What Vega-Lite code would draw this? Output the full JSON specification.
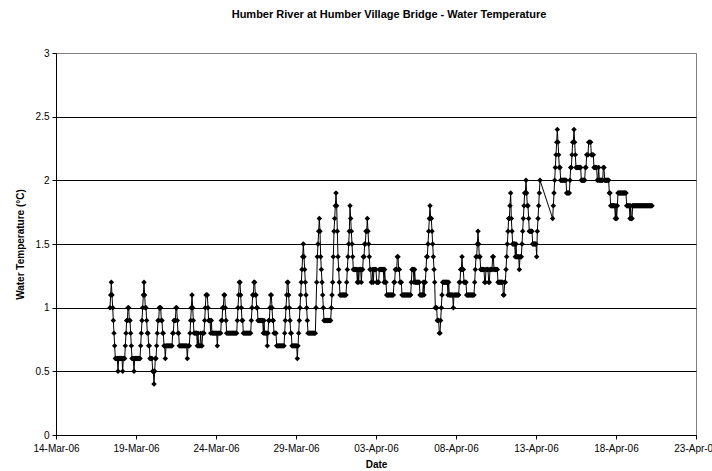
{
"$schema":"https://vega.github.io/schema/vega-lite/v6.json",
"width":640,"height":382,"autosize":"none",
"padding":{"left":56,"top":53,"right":16,"bottom":36},
"background":"white",
"title":{"text":"Humber River at Humber Village Bridge - Water Temperature","font":"Liberation Sans","fontSize":11,"fontWeight":"bold","color":"black","frame":"group","anchor":"middle","offset":28,"dx":13},
"config":{"view":{"stroke":"#808080","strokeWidth":1},
"axis":{"labelFont":"Liberation Sans","labelFontSize":10,"labelColor":"black","titleFont":"Liberation Sans","titleFontSize":10,"titleFontWeight":"bold","titleColor":"black","domainColor":"black","tickColor":"black","tickSize":4,"domainWidth":1,"tickWidth":1}},
"data":{"values":[
{"t":"2006-03-17T09:00","v":1.0},{"t":"2006-03-17T10:00","v":1.1},{"t":"2006-03-17T11:00","v":1.2},{"t":"2006-03-17T12:00","v":1.1},{"t":"2006-03-17T13:00","v":1.0},{"t":"2006-03-17T14:00","v":0.9},{"t":"2006-03-17T15:00","v":0.8},{"t":"2006-03-17T16:00","v":0.7},{"t":"2006-03-17T17:00","v":0.6},{"t":"2006-03-17T18:00","v":0.6},{"t":"2006-03-17T19:00","v":0.6},{"t":"2006-03-17T20:00","v":0.6},{"t":"2006-03-17T21:00","v":0.5},{"t":"2006-03-17T22:00","v":0.6},{"t":"2006-03-17T23:00","v":0.6},
{"t":"2006-03-18T00:00","v":0.6},{"t":"2006-03-18T01:00","v":0.6},{"t":"2006-03-18T02:00","v":0.6},{"t":"2006-03-18T03:00","v":0.6},{"t":"2006-03-18T04:00","v":0.5},{"t":"2006-03-18T05:00","v":0.6},{"t":"2006-03-18T06:00","v":0.6},{"t":"2006-03-18T07:00","v":0.6},{"t":"2006-03-18T08:00","v":0.7},{"t":"2006-03-18T09:00","v":0.8},{"t":"2006-03-18T10:00","v":0.9},{"t":"2006-03-18T11:00","v":0.9},{"t":"2006-03-18T12:00","v":1.0},{"t":"2006-03-18T13:00","v":1.0},{"t":"2006-03-18T14:00","v":0.9},{"t":"2006-03-18T15:00","v":0.9},{"t":"2006-03-18T16:00","v":0.8},{"t":"2006-03-18T17:00","v":0.7},{"t":"2006-03-18T18:00","v":0.6},{"t":"2006-03-18T19:00","v":0.6},{"t":"2006-03-18T20:00","v":0.6},{"t":"2006-03-18T21:00","v":0.5},{"t":"2006-03-18T22:00","v":0.6},{"t":"2006-03-18T23:00","v":0.6},
{"t":"2006-03-19T00:00","v":0.6},{"t":"2006-03-19T01:00","v":0.6},{"t":"2006-03-19T02:00","v":0.6},{"t":"2006-03-19T03:00","v":0.6},{"t":"2006-03-19T04:00","v":0.6},{"t":"2006-03-19T05:00","v":0.6},{"t":"2006-03-19T06:00","v":0.6},{"t":"2006-03-19T07:00","v":0.7},{"t":"2006-03-19T08:00","v":0.8},{"t":"2006-03-19T09:00","v":0.9},{"t":"2006-03-19T10:00","v":1.0},{"t":"2006-03-19T11:00","v":1.1},{"t":"2006-03-19T12:00","v":1.2},{"t":"2006-03-19T13:00","v":1.1},{"t":"2006-03-19T14:00","v":1.0},{"t":"2006-03-19T15:00","v":1.0},{"t":"2006-03-19T16:00","v":0.9},{"t":"2006-03-19T17:00","v":0.8},{"t":"2006-03-19T18:00","v":0.8},{"t":"2006-03-19T19:00","v":0.7},{"t":"2006-03-19T20:00","v":0.7},{"t":"2006-03-19T21:00","v":0.6},{"t":"2006-03-19T22:00","v":0.6},{"t":"2006-03-19T23:00","v":0.6},
{"t":"2006-03-20T00:00","v":0.6},{"t":"2006-03-20T01:00","v":0.5},{"t":"2006-03-20T02:00","v":0.5},{"t":"2006-03-20T03:00","v":0.4},{"t":"2006-03-20T04:00","v":0.5},{"t":"2006-03-20T05:00","v":0.6},{"t":"2006-03-20T06:00","v":0.6},{"t":"2006-03-20T07:00","v":0.7},{"t":"2006-03-20T08:00","v":0.8},{"t":"2006-03-20T09:00","v":0.9},{"t":"2006-03-20T10:00","v":0.9},{"t":"2006-03-20T11:00","v":1.0},{"t":"2006-03-20T12:00","v":1.0},{"t":"2006-03-20T13:00","v":1.0},{"t":"2006-03-20T14:00","v":0.9},{"t":"2006-03-20T15:00","v":0.9},{"t":"2006-03-20T16:00","v":0.8},{"t":"2006-03-20T17:00","v":0.8},{"t":"2006-03-20T18:00","v":0.7},{"t":"2006-03-20T19:00","v":0.7},{"t":"2006-03-20T20:00","v":0.6},{"t":"2006-03-20T21:00","v":0.7},{"t":"2006-03-20T22:00","v":0.7},{"t":"2006-03-20T23:00","v":0.7},
{"t":"2006-03-21T00:00","v":0.7},{"t":"2006-03-21T01:00","v":0.7},{"t":"2006-03-21T02:00","v":0.7},{"t":"2006-03-21T03:00","v":0.7},{"t":"2006-03-21T04:00","v":0.7},{"t":"2006-03-21T05:00","v":0.7},{"t":"2006-03-21T06:00","v":0.7},{"t":"2006-03-21T07:00","v":0.8},{"t":"2006-03-21T08:00","v":0.8},{"t":"2006-03-21T09:00","v":0.9},{"t":"2006-03-21T10:00","v":0.9},{"t":"2006-03-21T11:00","v":0.9},{"t":"2006-03-21T12:00","v":1.0},{"t":"2006-03-21T13:00","v":1.0},{"t":"2006-03-21T14:00","v":0.9},{"t":"2006-03-21T15:00","v":0.8},{"t":"2006-03-21T16:00","v":0.8},{"t":"2006-03-21T17:00","v":0.7},{"t":"2006-03-21T18:00","v":0.7},{"t":"2006-03-21T19:00","v":0.7},{"t":"2006-03-21T20:00","v":0.7},{"t":"2006-03-21T21:00","v":0.7},{"t":"2006-03-21T22:00","v":0.7},{"t":"2006-03-21T23:00","v":0.7},
{"t":"2006-03-22T00:00","v":0.7},{"t":"2006-03-22T01:00","v":0.7},{"t":"2006-03-22T02:00","v":0.7},{"t":"2006-03-22T03:00","v":0.7},{"t":"2006-03-22T04:00","v":0.7},{"t":"2006-03-22T05:00","v":0.6},{"t":"2006-03-22T06:00","v":0.7},{"t":"2006-03-22T07:00","v":0.7},{"t":"2006-03-22T08:00","v":0.7},{"t":"2006-03-22T09:00","v":0.8},{"t":"2006-03-22T10:00","v":0.9},{"t":"2006-03-22T11:00","v":1.0},{"t":"2006-03-22T12:00","v":1.1},{"t":"2006-03-22T13:00","v":1.0},{"t":"2006-03-22T14:00","v":0.9},{"t":"2006-03-22T15:00","v":0.8},{"t":"2006-03-22T16:00","v":0.8},{"t":"2006-03-22T17:00","v":0.8},{"t":"2006-03-22T18:00","v":0.8},{"t":"2006-03-22T19:00","v":0.8},{"t":"2006-03-22T20:00","v":0.7},{"t":"2006-03-22T21:00","v":0.8},{"t":"2006-03-22T22:00","v":0.7},{"t":"2006-03-22T23:00","v":0.7},
{"t":"2006-03-23T00:00","v":0.7},{"t":"2006-03-23T01:00","v":0.8},{"t":"2006-03-23T02:00","v":0.7},{"t":"2006-03-23T03:00","v":0.7},{"t":"2006-03-23T04:00","v":0.8},{"t":"2006-03-23T05:00","v":0.8},{"t":"2006-03-23T06:00","v":0.8},{"t":"2006-03-23T07:00","v":0.9},{"t":"2006-03-23T08:00","v":1.0},{"t":"2006-03-23T09:00","v":1.1},{"t":"2006-03-23T10:00","v":1.1},{"t":"2006-03-23T11:00","v":1.1},{"t":"2006-03-23T12:00","v":1.0},{"t":"2006-03-23T13:00","v":0.9},{"t":"2006-03-23T14:00","v":0.9},{"t":"2006-03-23T15:00","v":0.9},{"t":"2006-03-23T16:00","v":0.8},{"t":"2006-03-23T17:00","v":0.9},{"t":"2006-03-23T18:00","v":0.8},{"t":"2006-03-23T19:00","v":0.8},{"t":"2006-03-23T20:00","v":0.8},{"t":"2006-03-23T21:00","v":0.8},{"t":"2006-03-23T22:00","v":0.8},{"t":"2006-03-23T23:00","v":0.8},
{"t":"2006-03-24T00:00","v":0.8},{"t":"2006-03-24T01:00","v":0.8},{"t":"2006-03-24T02:00","v":0.7},{"t":"2006-03-24T03:00","v":0.8},{"t":"2006-03-24T04:00","v":0.8},{"t":"2006-03-24T05:00","v":0.8},{"t":"2006-03-24T06:00","v":0.8},{"t":"2006-03-24T07:00","v":0.8},{"t":"2006-03-24T08:00","v":0.9},{"t":"2006-03-24T09:00","v":0.9},{"t":"2006-03-24T10:00","v":1.0},{"t":"2006-03-24T11:00","v":1.0},{"t":"2006-03-24T12:00","v":1.1},{"t":"2006-03-24T13:00","v":1.1},{"t":"2006-03-24T14:00","v":1.0},{"t":"2006-03-24T15:00","v":0.9},{"t":"2006-03-24T16:00","v":0.8},{"t":"2006-03-24T17:00","v":0.8},{"t":"2006-03-24T18:00","v":0.8},{"t":"2006-03-24T19:00","v":0.8},{"t":"2006-03-24T20:00","v":0.8},{"t":"2006-03-24T21:00","v":0.8},{"t":"2006-03-24T22:00","v":0.8},{"t":"2006-03-24T23:00","v":0.8},
{"t":"2006-03-25T00:00","v":0.8},{"t":"2006-03-25T01:00","v":0.8},{"t":"2006-03-25T02:00","v":0.8},{"t":"2006-03-25T03:00","v":0.8},{"t":"2006-03-25T04:00","v":0.8},{"t":"2006-03-25T05:00","v":0.8},{"t":"2006-03-25T06:00","v":0.8},{"t":"2006-03-25T07:00","v":0.8},{"t":"2006-03-25T08:00","v":0.9},{"t":"2006-03-25T09:00","v":1.0},{"t":"2006-03-25T10:00","v":1.1},{"t":"2006-03-25T11:00","v":1.2},{"t":"2006-03-25T12:00","v":1.2},{"t":"2006-03-25T13:00","v":1.1},{"t":"2006-03-25T14:00","v":1.0},{"t":"2006-03-25T15:00","v":0.9},{"t":"2006-03-25T16:00","v":0.9},{"t":"2006-03-25T17:00","v":0.8},{"t":"2006-03-25T18:00","v":0.8},{"t":"2006-03-25T19:00","v":0.8},{"t":"2006-03-25T20:00","v":0.8},{"t":"2006-03-25T21:00","v":0.8},{"t":"2006-03-25T22:00","v":0.8},{"t":"2006-03-25T23:00","v":0.8},
{"t":"2006-03-26T00:00","v":0.8},{"t":"2006-03-26T01:00","v":0.8},{"t":"2006-03-26T02:00","v":0.8},{"t":"2006-03-26T03:00","v":0.8},{"t":"2006-03-26T04:00","v":0.8},{"t":"2006-03-26T05:00","v":0.9},{"t":"2006-03-26T06:00","v":1.0},{"t":"2006-03-26T07:00","v":1.1},{"t":"2006-03-26T08:00","v":1.1},{"t":"2006-03-26T09:00","v":1.2},{"t":"2006-03-26T10:00","v":1.2},{"t":"2006-03-26T11:00","v":1.1},{"t":"2006-03-26T12:00","v":1.1},{"t":"2006-03-26T13:00","v":1.0},{"t":"2006-03-26T14:00","v":1.0},{"t":"2006-03-26T15:00","v":0.9},{"t":"2006-03-26T16:00","v":0.9},{"t":"2006-03-26T17:00","v":0.9},{"t":"2006-03-26T18:00","v":0.9},{"t":"2006-03-26T19:00","v":0.9},{"t":"2006-03-26T20:00","v":0.9},{"t":"2006-03-26T21:00","v":0.9},{"t":"2006-03-26T22:00","v":0.9},{"t":"2006-03-26T23:00","v":0.8},
{"t":"2006-03-27T00:00","v":0.9},{"t":"2006-03-27T01:00","v":0.8},{"t":"2006-03-27T02:00","v":0.8},{"t":"2006-03-27T03:00","v":0.8},{"t":"2006-03-27T04:00","v":0.8},{"t":"2006-03-27T05:00","v":0.7},{"t":"2006-03-27T06:00","v":0.8},{"t":"2006-03-27T07:00","v":0.9},{"t":"2006-03-27T08:00","v":0.9},{"t":"2006-03-27T09:00","v":1.0},{"t":"2006-03-27T10:00","v":1.1},{"t":"2006-03-27T11:00","v":1.1},{"t":"2006-03-27T12:00","v":1.0},{"t":"2006-03-27T13:00","v":0.9},{"t":"2006-03-27T14:00","v":0.9},{"t":"2006-03-27T15:00","v":0.8},{"t":"2006-03-27T16:00","v":0.8},{"t":"2006-03-27T17:00","v":0.8},{"t":"2006-03-27T18:00","v":0.8},{"t":"2006-03-27T19:00","v":0.7},{"t":"2006-03-27T20:00","v":0.7},{"t":"2006-03-27T21:00","v":0.7},{"t":"2006-03-27T22:00","v":0.7},{"t":"2006-03-27T23:00","v":0.7},
{"t":"2006-03-28T00:00","v":0.7},{"t":"2006-03-28T01:00","v":0.7},{"t":"2006-03-28T02:00","v":0.7},{"t":"2006-03-28T03:00","v":0.7},{"t":"2006-03-28T04:00","v":0.7},{"t":"2006-03-28T05:00","v":0.7},{"t":"2006-03-28T06:00","v":0.7},{"t":"2006-03-28T07:00","v":0.8},{"t":"2006-03-28T08:00","v":0.9},{"t":"2006-03-28T09:00","v":1.0},{"t":"2006-03-28T10:00","v":1.1},{"t":"2006-03-28T11:00","v":1.2},{"t":"2006-03-28T12:00","v":1.2},{"t":"2006-03-28T13:00","v":1.1},{"t":"2006-03-28T14:00","v":1.0},{"t":"2006-03-28T15:00","v":0.9},{"t":"2006-03-28T16:00","v":0.8},{"t":"2006-03-28T17:00","v":0.8},{"t":"2006-03-28T18:00","v":0.7},{"t":"2006-03-28T19:00","v":0.7},{"t":"2006-03-28T20:00","v":0.7},{"t":"2006-03-28T21:00","v":0.7},{"t":"2006-03-28T22:00","v":0.7},{"t":"2006-03-28T23:00","v":0.7},
{"t":"2006-03-29T00:00","v":0.7},{"t":"2006-03-29T01:00","v":0.7},{"t":"2006-03-29T02:00","v":0.6},{"t":"2006-03-29T03:00","v":0.7},{"t":"2006-03-29T04:00","v":0.8},{"t":"2006-03-29T05:00","v":0.9},{"t":"2006-03-29T06:00","v":1.0},{"t":"2006-03-29T07:00","v":1.1},{"t":"2006-03-29T08:00","v":1.2},{"t":"2006-03-29T09:00","v":1.3},{"t":"2006-03-29T10:00","v":1.4},{"t":"2006-03-29T11:00","v":1.5},{"t":"2006-03-29T12:00","v":1.4},{"t":"2006-03-29T13:00","v":1.3},{"t":"2006-03-29T14:00","v":1.2},{"t":"2006-03-29T15:00","v":1.1},{"t":"2006-03-29T16:00","v":1.0},{"t":"2006-03-29T17:00","v":0.9},{"t":"2006-03-29T18:00","v":0.8},{"t":"2006-03-29T19:00","v":0.8},{"t":"2006-03-29T20:00","v":0.8},{"t":"2006-03-29T21:00","v":0.8},{"t":"2006-03-29T22:00","v":0.8},{"t":"2006-03-29T23:00","v":0.8},
{"t":"2006-03-30T00:00","v":0.8},{"t":"2006-03-30T01:00","v":0.8},{"t":"2006-03-30T02:00","v":0.8},{"t":"2006-03-30T03:00","v":0.8},{"t":"2006-03-30T04:00","v":0.8},{"t":"2006-03-30T05:00","v":0.8},{"t":"2006-03-30T06:00","v":1.0},{"t":"2006-03-30T07:00","v":1.2},{"t":"2006-03-30T08:00","v":1.4},{"t":"2006-03-30T09:00","v":1.5},{"t":"2006-03-30T10:00","v":1.6},{"t":"2006-03-30T11:00","v":1.7},{"t":"2006-03-30T12:00","v":1.6},{"t":"2006-03-30T13:00","v":1.4},{"t":"2006-03-30T14:00","v":1.3},{"t":"2006-03-30T15:00","v":1.2},{"t":"2006-03-30T16:00","v":1.1},{"t":"2006-03-30T17:00","v":1.0},{"t":"2006-03-30T18:00","v":0.9},{"t":"2006-03-30T19:00","v":0.9},{"t":"2006-03-30T20:00","v":0.9},{"t":"2006-03-30T21:00","v":0.9},{"t":"2006-03-30T22:00","v":0.9},{"t":"2006-03-30T23:00","v":0.9},
{"t":"2006-03-31T00:00","v":0.9},{"t":"2006-03-31T01:00","v":0.9},{"t":"2006-03-31T02:00","v":0.9},{"t":"2006-03-31T03:00","v":0.9},{"t":"2006-03-31T04:00","v":0.9},{"t":"2006-03-31T05:00","v":1.0},{"t":"2006-03-31T06:00","v":1.1},{"t":"2006-03-31T07:00","v":1.2},{"t":"2006-03-31T08:00","v":1.4},{"t":"2006-03-31T09:00","v":1.6},{"t":"2006-03-31T10:00","v":1.7},{"t":"2006-03-31T11:00","v":1.8},{"t":"2006-03-31T12:00","v":1.9},{"t":"2006-03-31T13:00","v":1.8},{"t":"2006-03-31T14:00","v":1.6},{"t":"2006-03-31T15:00","v":1.4},{"t":"2006-03-31T16:00","v":1.3},{"t":"2006-03-31T17:00","v":1.2},{"t":"2006-03-31T18:00","v":1.1},{"t":"2006-03-31T19:00","v":1.1},{"t":"2006-03-31T20:00","v":1.1},{"t":"2006-03-31T21:00","v":1.1},{"t":"2006-03-31T22:00","v":1.1},{"t":"2006-03-31T23:00","v":1.1},
{"t":"2006-04-01T00:00","v":1.1},{"t":"2006-04-01T01:00","v":1.1},{"t":"2006-04-01T02:00","v":1.1},{"t":"2006-04-01T03:00","v":1.1},{"t":"2006-04-01T04:00","v":1.2},{"t":"2006-04-01T05:00","v":1.3},{"t":"2006-04-01T06:00","v":1.4},{"t":"2006-04-01T07:00","v":1.5},{"t":"2006-04-01T08:00","v":1.6},{"t":"2006-04-01T09:00","v":1.8},{"t":"2006-04-01T10:00","v":1.7},{"t":"2006-04-01T11:00","v":1.6},{"t":"2006-04-01T12:00","v":1.5},{"t":"2006-04-01T13:00","v":1.4},{"t":"2006-04-01T14:00","v":1.3},{"t":"2006-04-01T15:00","v":1.3},{"t":"2006-04-01T16:00","v":1.3},{"t":"2006-04-01T17:00","v":1.3},{"t":"2006-04-01T18:00","v":1.3},{"t":"2006-04-01T19:00","v":1.3},{"t":"2006-04-01T20:00","v":1.2},{"t":"2006-04-01T21:00","v":1.3},{"t":"2006-04-01T22:00","v":1.2},{"t":"2006-04-01T23:00","v":1.3},
{"t":"2006-04-02T00:00","v":1.3},{"t":"2006-04-02T01:00","v":1.3},{"t":"2006-04-02T02:00","v":1.2},{"t":"2006-04-02T03:00","v":1.3},{"t":"2006-04-02T04:00","v":1.3},{"t":"2006-04-02T05:00","v":1.4},{"t":"2006-04-02T06:00","v":1.4},{"t":"2006-04-02T07:00","v":1.5},{"t":"2006-04-02T08:00","v":1.5},{"t":"2006-04-02T09:00","v":1.6},{"t":"2006-04-02T10:00","v":1.6},{"t":"2006-04-02T11:00","v":1.7},{"t":"2006-04-02T12:00","v":1.6},{"t":"2006-04-02T13:00","v":1.5},{"t":"2006-04-02T14:00","v":1.4},{"t":"2006-04-02T15:00","v":1.3},{"t":"2006-04-02T16:00","v":1.3},{"t":"2006-04-02T17:00","v":1.2},{"t":"2006-04-02T18:00","v":1.2},{"t":"2006-04-02T19:00","v":1.3},{"t":"2006-04-02T20:00","v":1.2},{"t":"2006-04-02T21:00","v":1.3},{"t":"2006-04-02T22:00","v":1.3},{"t":"2006-04-02T23:00","v":1.3},
{"t":"2006-04-03T00:00","v":1.3},{"t":"2006-04-03T01:00","v":1.2},{"t":"2006-04-03T02:00","v":1.2},{"t":"2006-04-03T03:00","v":1.2},{"t":"2006-04-03T04:00","v":1.2},{"t":"2006-04-03T05:00","v":1.3},{"t":"2006-04-03T06:00","v":1.3},{"t":"2006-04-03T07:00","v":1.3},{"t":"2006-04-03T08:00","v":1.3},{"t":"2006-04-03T09:00","v":1.3},{"t":"2006-04-03T10:00","v":1.3},{"t":"2006-04-03T11:00","v":1.3},{"t":"2006-04-03T12:00","v":1.2},{"t":"2006-04-03T13:00","v":1.3},{"t":"2006-04-03T14:00","v":1.2},{"t":"2006-04-03T15:00","v":1.2},{"t":"2006-04-03T16:00","v":1.1},{"t":"2006-04-03T17:00","v":1.1},{"t":"2006-04-03T18:00","v":1.1},{"t":"2006-04-03T19:00","v":1.1},{"t":"2006-04-03T20:00","v":1.1},{"t":"2006-04-03T21:00","v":1.1},{"t":"2006-04-03T22:00","v":1.1},{"t":"2006-04-03T23:00","v":1.1},
{"t":"2006-04-04T00:00","v":1.1},{"t":"2006-04-04T01:00","v":1.1},{"t":"2006-04-04T02:00","v":1.1},{"t":"2006-04-04T03:00","v":1.2},{"t":"2006-04-04T04:00","v":1.2},{"t":"2006-04-04T05:00","v":1.3},{"t":"2006-04-04T06:00","v":1.3},{"t":"2006-04-04T07:00","v":1.3},{"t":"2006-04-04T08:00","v":1.4},{"t":"2006-04-04T09:00","v":1.4},{"t":"2006-04-04T10:00","v":1.3},{"t":"2006-04-04T11:00","v":1.3},{"t":"2006-04-04T12:00","v":1.2},{"t":"2006-04-04T13:00","v":1.2},{"t":"2006-04-04T14:00","v":1.2},{"t":"2006-04-04T15:00","v":1.1},{"t":"2006-04-04T16:00","v":1.1},{"t":"2006-04-04T17:00","v":1.1},{"t":"2006-04-04T18:00","v":1.1},{"t":"2006-04-04T19:00","v":1.1},{"t":"2006-04-04T20:00","v":1.1},{"t":"2006-04-04T21:00","v":1.1},{"t":"2006-04-04T22:00","v":1.1},{"t":"2006-04-04T23:00","v":1.1},
{"t":"2006-04-05T00:00","v":1.1},{"t":"2006-04-05T01:00","v":1.1},{"t":"2006-04-05T02:00","v":1.1},{"t":"2006-04-05T03:00","v":1.1},{"t":"2006-04-05T04:00","v":1.1},{"t":"2006-04-05T05:00","v":1.2},{"t":"2006-04-05T06:00","v":1.3},{"t":"2006-04-05T07:00","v":1.3},{"t":"2006-04-05T08:00","v":1.3},{"t":"2006-04-05T09:00","v":1.2},{"t":"2006-04-05T10:00","v":1.3},{"t":"2006-04-05T11:00","v":1.2},{"t":"2006-04-05T12:00","v":1.2},{"t":"2006-04-05T13:00","v":1.2},{"t":"2006-04-05T14:00","v":1.2},{"t":"2006-04-05T15:00","v":1.2},{"t":"2006-04-05T16:00","v":1.2},{"t":"2006-04-05T17:00","v":1.2},{"t":"2006-04-05T18:00","v":1.1},{"t":"2006-04-05T19:00","v":1.1},{"t":"2006-04-05T20:00","v":1.1},{"t":"2006-04-05T21:00","v":1.1},{"t":"2006-04-05T22:00","v":1.1},{"t":"2006-04-05T23:00","v":1.2},
{"t":"2006-04-06T00:00","v":1.1},{"t":"2006-04-06T01:00","v":1.2},{"t":"2006-04-06T02:00","v":1.2},{"t":"2006-04-06T03:00","v":1.3},{"t":"2006-04-06T04:00","v":1.4},{"t":"2006-04-06T05:00","v":1.4},{"t":"2006-04-06T06:00","v":1.5},{"t":"2006-04-06T07:00","v":1.6},{"t":"2006-04-06T08:00","v":1.7},{"t":"2006-04-06T09:00","v":1.8},{"t":"2006-04-06T10:00","v":1.7},{"t":"2006-04-06T11:00","v":1.7},{"t":"2006-04-06T12:00","v":1.6},{"t":"2006-04-06T13:00","v":1.5},{"t":"2006-04-06T14:00","v":1.4},{"t":"2006-04-06T15:00","v":1.3},{"t":"2006-04-06T16:00","v":1.2},{"t":"2006-04-06T17:00","v":1.0},{"t":"2006-04-06T18:00","v":1.0},{"t":"2006-04-06T19:00","v":1.0},{"t":"2006-04-06T20:00","v":0.9},{"t":"2006-04-06T21:00","v":0.9},{"t":"2006-04-06T22:00","v":0.9},{"t":"2006-04-06T23:00","v":0.8},
{"t":"2006-04-07T00:00","v":0.8},{"t":"2006-04-07T01:00","v":0.9},{"t":"2006-04-07T02:00","v":1.0},{"t":"2006-04-07T03:00","v":1.1},{"t":"2006-04-07T04:00","v":1.2},{"t":"2006-04-07T05:00","v":1.2},{"t":"2006-04-07T06:00","v":1.2},{"t":"2006-04-07T07:00","v":1.2},{"t":"2006-04-07T08:00","v":1.2},{"t":"2006-04-07T09:00","v":1.2},{"t":"2006-04-07T10:00","v":1.2},{"t":"2006-04-07T11:00","v":1.2},{"t":"2006-04-07T12:00","v":1.1},{"t":"2006-04-07T13:00","v":1.2},{"t":"2006-04-07T14:00","v":1.1},{"t":"2006-04-07T15:00","v":1.1},{"t":"2006-04-07T16:00","v":1.1},{"t":"2006-04-07T17:00","v":1.1},{"t":"2006-04-07T18:00","v":1.1},{"t":"2006-04-07T19:00","v":1.1},{"t":"2006-04-07T20:00","v":1.0},{"t":"2006-04-07T21:00","v":1.1},{"t":"2006-04-07T22:00","v":1.1},{"t":"2006-04-07T23:00","v":1.1},
{"t":"2006-04-08T00:00","v":1.1},{"t":"2006-04-08T01:00","v":1.1},{"t":"2006-04-08T02:00","v":1.1},{"t":"2006-04-08T03:00","v":1.1},{"t":"2006-04-08T04:00","v":1.1},{"t":"2006-04-08T05:00","v":1.2},{"t":"2006-04-08T06:00","v":1.2},{"t":"2006-04-08T07:00","v":1.3},{"t":"2006-04-08T08:00","v":1.3},{"t":"2006-04-08T09:00","v":1.4},{"t":"2006-04-08T10:00","v":1.3},{"t":"2006-04-08T11:00","v":1.3},{"t":"2006-04-08T12:00","v":1.2},{"t":"2006-04-08T13:00","v":1.2},{"t":"2006-04-08T14:00","v":1.2},{"t":"2006-04-08T15:00","v":1.2},{"t":"2006-04-08T16:00","v":1.1},{"t":"2006-04-08T17:00","v":1.1},{"t":"2006-04-08T18:00","v":1.1},{"t":"2006-04-08T19:00","v":1.1},{"t":"2006-04-08T20:00","v":1.1},{"t":"2006-04-08T21:00","v":1.1},{"t":"2006-04-08T22:00","v":1.1},{"t":"2006-04-08T23:00","v":1.1},
{"t":"2006-04-09T00:00","v":1.1},{"t":"2006-04-09T01:00","v":1.1},{"t":"2006-04-09T02:00","v":1.1},{"t":"2006-04-09T03:00","v":1.1},{"t":"2006-04-09T04:00","v":1.2},{"t":"2006-04-09T05:00","v":1.3},{"t":"2006-04-09T06:00","v":1.4},{"t":"2006-04-09T07:00","v":1.4},{"t":"2006-04-09T08:00","v":1.5},{"t":"2006-04-09T09:00","v":1.6},{"t":"2006-04-09T10:00","v":1.5},{"t":"2006-04-09T11:00","v":1.4},{"t":"2006-04-09T12:00","v":1.4},{"t":"2006-04-09T13:00","v":1.3},{"t":"2006-04-09T14:00","v":1.3},{"t":"2006-04-09T15:00","v":1.3},{"t":"2006-04-09T16:00","v":1.3},{"t":"2006-04-09T17:00","v":1.3},{"t":"2006-04-09T18:00","v":1.3},{"t":"2006-04-09T19:00","v":1.2},{"t":"2006-04-09T20:00","v":1.2},{"t":"2006-04-09T21:00","v":1.3},{"t":"2006-04-09T22:00","v":1.3},{"t":"2006-04-09T23:00","v":1.3},
{"t":"2006-04-10T00:00","v":1.3},{"t":"2006-04-10T01:00","v":1.2},{"t":"2006-04-10T02:00","v":1.2},{"t":"2006-04-10T03:00","v":1.3},{"t":"2006-04-10T04:00","v":1.3},{"t":"2006-04-10T05:00","v":1.3},{"t":"2006-04-10T06:00","v":1.3},{"t":"2006-04-10T07:00","v":1.4},{"t":"2006-04-10T08:00","v":1.4},{"t":"2006-04-10T09:00","v":1.3},{"t":"2006-04-10T10:00","v":1.3},{"t":"2006-04-10T11:00","v":1.3},{"t":"2006-04-10T12:00","v":1.3},{"t":"2006-04-10T13:00","v":1.3},{"t":"2006-04-10T14:00","v":1.3},{"t":"2006-04-10T15:00","v":1.2},{"t":"2006-04-10T16:00","v":1.2},{"t":"2006-04-10T17:00","v":1.2},{"t":"2006-04-10T18:00","v":1.2},{"t":"2006-04-10T19:00","v":1.2},{"t":"2006-04-10T20:00","v":1.2},{"t":"2006-04-10T21:00","v":1.2},{"t":"2006-04-10T22:00","v":1.2},{"t":"2006-04-10T23:00","v":1.1},
{"t":"2006-04-11T00:00","v":1.1},{"t":"2006-04-11T01:00","v":1.2},{"t":"2006-04-11T02:00","v":1.2},{"t":"2006-04-11T03:00","v":1.3},{"t":"2006-04-11T04:00","v":1.4},{"t":"2006-04-11T05:00","v":1.5},{"t":"2006-04-11T06:00","v":1.6},{"t":"2006-04-11T07:00","v":1.7},{"t":"2006-04-11T08:00","v":1.7},{"t":"2006-04-11T09:00","v":1.8},{"t":"2006-04-11T10:00","v":1.9},{"t":"2006-04-11T11:00","v":1.7},{"t":"2006-04-11T12:00","v":1.6},{"t":"2006-04-11T13:00","v":1.5},{"t":"2006-04-11T14:00","v":1.5},{"t":"2006-04-11T15:00","v":1.5},{"t":"2006-04-11T16:00","v":1.5},{"t":"2006-04-11T17:00","v":1.4},{"t":"2006-04-11T18:00","v":1.5},{"t":"2006-04-11T19:00","v":1.4},{"t":"2006-04-11T20:00","v":1.4},{"t":"2006-04-11T21:00","v":1.4},{"t":"2006-04-11T22:00","v":1.4},{"t":"2006-04-11T23:00","v":1.3},
{"t":"2006-04-12T00:00","v":1.4},{"t":"2006-04-12T01:00","v":1.4},{"t":"2006-04-12T02:00","v":1.4},{"t":"2006-04-12T03:00","v":1.5},{"t":"2006-04-12T04:00","v":1.6},{"t":"2006-04-12T05:00","v":1.7},{"t":"2006-04-12T06:00","v":1.8},{"t":"2006-04-12T07:00","v":1.9},{"t":"2006-04-12T08:00","v":1.9},{"t":"2006-04-12T09:00","v":2.0},{"t":"2006-04-12T10:00","v":1.9},{"t":"2006-04-12T11:00","v":1.8},{"t":"2006-04-12T12:00","v":1.8},{"t":"2006-04-12T13:00","v":1.7},{"t":"2006-04-12T14:00","v":1.6},{"t":"2006-04-12T15:00","v":1.6},{"t":"2006-04-12T16:00","v":1.6},{"t":"2006-04-12T17:00","v":1.6},{"t":"2006-04-12T18:00","v":1.6},{"t":"2006-04-12T19:00","v":1.5},{"t":"2006-04-12T20:00","v":1.5},{"t":"2006-04-12T21:00","v":1.5},{"t":"2006-04-12T22:00","v":1.5},{"t":"2006-04-12T23:00","v":1.5},
{"t":"2006-04-13T00:00","v":1.5},{"t":"2006-04-13T01:00","v":1.4},{"t":"2006-04-13T02:00","v":1.6},{"t":"2006-04-13T03:00","v":1.7},{"t":"2006-04-13T04:00","v":1.8},{"t":"2006-04-13T05:00","v":1.9},{"t":"2006-04-13T06:00","v":2.0},
{"t":"2006-04-14T01:00","v":1.7},{"t":"2006-04-14T02:00","v":1.8},{"t":"2006-04-14T03:00","v":1.9},{"t":"2006-04-14T04:00","v":2.0},{"t":"2006-04-14T05:00","v":2.1},{"t":"2006-04-14T06:00","v":2.2},{"t":"2006-04-14T07:00","v":2.3},{"t":"2006-04-14T08:00","v":2.4},{"t":"2006-04-14T09:00","v":2.3},{"t":"2006-04-14T10:00","v":2.2},{"t":"2006-04-14T11:00","v":2.1},{"t":"2006-04-14T12:00","v":2.1},{"t":"2006-04-14T13:00","v":2.0},{"t":"2006-04-14T14:00","v":2.0},{"t":"2006-04-14T15:00","v":2.0},{"t":"2006-04-14T16:00","v":2.0},{"t":"2006-04-14T17:00","v":2.0},{"t":"2006-04-14T18:00","v":2.0},{"t":"2006-04-14T19:00","v":2.0},{"t":"2006-04-14T20:00","v":2.0},{"t":"2006-04-14T21:00","v":2.0},{"t":"2006-04-14T22:00","v":1.9},{"t":"2006-04-14T23:00","v":1.9},
{"t":"2006-04-15T00:00","v":1.9},{"t":"2006-04-15T01:00","v":1.9},{"t":"2006-04-15T02:00","v":1.9},{"t":"2006-04-15T03:00","v":2.0},{"t":"2006-04-15T04:00","v":2.1},{"t":"2006-04-15T05:00","v":2.1},{"t":"2006-04-15T06:00","v":2.2},{"t":"2006-04-15T07:00","v":2.3},{"t":"2006-04-15T08:00","v":2.3},{"t":"2006-04-15T09:00","v":2.4},{"t":"2006-04-15T10:00","v":2.3},{"t":"2006-04-15T11:00","v":2.2},{"t":"2006-04-15T12:00","v":2.1},{"t":"2006-04-15T13:00","v":2.1},{"t":"2006-04-15T14:00","v":2.1},{"t":"2006-04-15T15:00","v":2.1},{"t":"2006-04-15T16:00","v":2.1},{"t":"2006-04-15T17:00","v":2.1},{"t":"2006-04-15T18:00","v":2.1},{"t":"2006-04-15T19:00","v":2.1},{"t":"2006-04-15T20:00","v":2.0},{"t":"2006-04-15T21:00","v":2.0},{"t":"2006-04-15T22:00","v":2.0},{"t":"2006-04-15T23:00","v":2.0},
{"t":"2006-04-16T00:00","v":2.0},{"t":"2006-04-16T01:00","v":2.0},{"t":"2006-04-16T02:00","v":2.1},{"t":"2006-04-16T03:00","v":2.1},{"t":"2006-04-16T04:00","v":2.2},{"t":"2006-04-16T05:00","v":2.2},{"t":"2006-04-16T06:00","v":2.2},{"t":"2006-04-16T07:00","v":2.3},{"t":"2006-04-16T08:00","v":2.3},{"t":"2006-04-16T09:00","v":2.3},{"t":"2006-04-16T10:00","v":2.3},{"t":"2006-04-16T11:00","v":2.2},{"t":"2006-04-16T12:00","v":2.2},{"t":"2006-04-16T13:00","v":2.2},{"t":"2006-04-16T14:00","v":2.2},{"t":"2006-04-16T15:00","v":2.1},{"t":"2006-04-16T16:00","v":2.1},{"t":"2006-04-16T17:00","v":2.1},{"t":"2006-04-16T18:00","v":2.1},{"t":"2006-04-16T19:00","v":2.1},{"t":"2006-04-16T20:00","v":2.0},{"t":"2006-04-16T21:00","v":2.0},{"t":"2006-04-16T22:00","v":2.1},{"t":"2006-04-16T23:00","v":2.0},
{"t":"2006-04-17T00:00","v":2.0},{"t":"2006-04-17T01:00","v":2.0},{"t":"2006-04-17T02:00","v":2.0},{"t":"2006-04-17T03:00","v":2.0},{"t":"2006-04-17T04:00","v":2.0},{"t":"2006-04-17T05:00","v":2.1},{"t":"2006-04-17T06:00","v":2.1},{"t":"2006-04-17T07:00","v":2.0},{"t":"2006-04-17T08:00","v":2.0},{"t":"2006-04-17T09:00","v":2.0},{"t":"2006-04-17T10:00","v":2.0},{"t":"2006-04-17T11:00","v":2.0},{"t":"2006-04-17T12:00","v":2.0},{"t":"2006-04-17T13:00","v":2.0},{"t":"2006-04-17T14:00","v":1.9},{"t":"2006-04-17T15:00","v":1.9},{"t":"2006-04-17T16:00","v":1.8},{"t":"2006-04-17T17:00","v":1.8},{"t":"2006-04-17T18:00","v":1.8},{"t":"2006-04-17T19:00","v":1.8},{"t":"2006-04-17T20:00","v":1.8},{"t":"2006-04-17T21:00","v":1.8},{"t":"2006-04-17T22:00","v":1.8},{"t":"2006-04-17T23:00","v":1.7},
{"t":"2006-04-18T00:00","v":1.8},{"t":"2006-04-18T01:00","v":1.7},{"t":"2006-04-18T02:00","v":1.8},{"t":"2006-04-18T03:00","v":1.9},{"t":"2006-04-18T04:00","v":1.9},{"t":"2006-04-18T05:00","v":1.9},{"t":"2006-04-18T06:00","v":1.9},{"t":"2006-04-18T07:00","v":1.9},{"t":"2006-04-18T08:00","v":1.9},{"t":"2006-04-18T09:00","v":1.9},{"t":"2006-04-18T10:00","v":1.9},{"t":"2006-04-18T11:00","v":1.9},{"t":"2006-04-18T12:00","v":1.9},{"t":"2006-04-18T13:00","v":1.9},{"t":"2006-04-18T14:00","v":1.9},{"t":"2006-04-18T15:00","v":1.9},{"t":"2006-04-18T16:00","v":1.8},{"t":"2006-04-18T17:00","v":1.8},{"t":"2006-04-18T18:00","v":1.8},{"t":"2006-04-18T19:00","v":1.8},{"t":"2006-04-18T20:00","v":1.8},{"t":"2006-04-18T21:00","v":1.7},{"t":"2006-04-18T22:00","v":1.8},{"t":"2006-04-18T23:00","v":1.7},
{"t":"2006-04-19T00:00","v":1.7},{"t":"2006-04-19T01:00","v":1.8},{"t":"2006-04-19T02:00","v":1.8},{"t":"2006-04-19T03:00","v":1.8},{"t":"2006-04-19T04:00","v":1.8},{"t":"2006-04-19T05:00","v":1.8},{"t":"2006-04-19T06:00","v":1.8},{"t":"2006-04-19T07:00","v":1.8},{"t":"2006-04-19T08:00","v":1.8},{"t":"2006-04-19T09:00","v":1.8},{"t":"2006-04-19T10:00","v":1.8},{"t":"2006-04-19T11:00","v":1.8},{"t":"2006-04-19T12:00","v":1.8},{"t":"2006-04-19T13:00","v":1.8},{"t":"2006-04-19T14:00","v":1.8},{"t":"2006-04-19T15:00","v":1.8},{"t":"2006-04-19T16:00","v":1.8},{"t":"2006-04-19T17:00","v":1.8},{"t":"2006-04-19T18:00","v":1.8},{"t":"2006-04-19T19:00","v":1.8},{"t":"2006-04-19T20:00","v":1.8},{"t":"2006-04-19T21:00","v":1.8},{"t":"2006-04-19T22:00","v":1.8},{"t":"2006-04-19T23:00","v":1.8},
{"t":"2006-04-20T00:00","v":1.8},{"t":"2006-04-20T01:00","v":1.8},{"t":"2006-04-20T02:00","v":1.8},{"t":"2006-04-20T03:00","v":1.8},{"t":"2006-04-20T04:00","v":1.8},{"t":"2006-04-20T05:00","v":1.8},{"t":"2006-04-20T06:00","v":1.8}
]},
"mark":{"type":"line","color":"black","strokeWidth":1,"point":{"shape":"diamond","size":30,"filled":true,"color":"black","opacity":1}},
"encoding":{
"x":{"field":"t","type":"temporal","scale":{"domain":[{"year":2006,"month":3,"date":14},{"year":2006,"month":4,"date":23}]},
"axis":{"title":"Date","grid":false,"format":"%d-%b-%y","labelFlush":false,"labelOverlap":false,"labelPadding":4,"titlePadding":6,
"values":[{"year":2006,"month":3,"date":14},{"year":2006,"month":3,"date":19},{"year":2006,"month":3,"date":24},{"year":2006,"month":3,"date":29},{"year":2006,"month":4,"date":3},{"year":2006,"month":4,"date":8},{"year":2006,"month":4,"date":13},{"year":2006,"month":4,"date":18},{"year":2006,"month":4,"date":23}]}},
"y":{"field":"v","type":"quantitative","scale":{"domain":[0,3],"nice":false,"zero":true},
"axis":{"title":"Water Temperature (°C)","values":[0,0.5,1,1.5,2,2.5,3],"format":".1~f","grid":true,"gridColor":{"condition":{"test":"datum.value === 3","value":"#808080"},"value":"black"},"gridWidth":1,"labelPadding":3,"titlePadding":10,"labelFlush":false}}
}
}
